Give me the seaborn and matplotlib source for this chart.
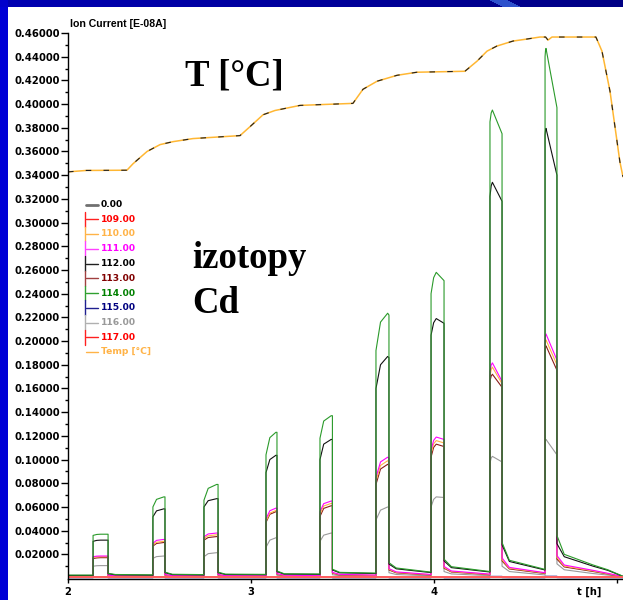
import numpy as np
import matplotlib
matplotlib.use("Agg")
import matplotlib.pyplot as plt
import seaborn as sns
from matplotlib.lines import Line2D
from matplotlib.ticker import FixedLocator

# ---- time axis (hours) ----
PULSE_ON = [2.137, 2.464, 2.743, 3.082, 3.377, 3.683, 3.984, 4.306, 4.607]
PULSE_OFF = [2.219, 2.530, 2.820, 3.142, 3.445, 3.754, 4.055, 4.372, 4.672]
SHOULDER_FRAC = [0.25, 0.30, 0.30, 0.35, 0.30, 0.35, 0.20, 0.10, 0.04]
PEAK_FRAC = [0.50, 0.90, 0.90, 0.90, 0.90, 0.90, 0.40, 0.20, 0.08]
SETTLE_DT = 0.04
TAIL_T = [4.87, 4.95, 5.033]

# ---- ion currents per pulse:
#      (before, after rise, shoulder, maximum, before fall, after drop, settled) ----
CD114 = [
    (0.0025, 0.036, 0.0368, 0.037, 0.037, 0.0040, 0.0030),
    (0.0027, 0.060, 0.0664, 0.0685, 0.0685, 0.0050, 0.0032),
    (0.0029, 0.0657, 0.0757, 0.079, 0.079, 0.0050, 0.0033),
    (0.0031, 0.104, 0.1185, 0.123, 0.123, 0.0060, 0.0036),
    (0.0034, 0.118, 0.1325, 0.137, 0.137, 0.0075, 0.0048),
    (0.0042, 0.192, 0.216, 0.2235, 0.222, 0.0130, 0.0085),
    (0.0050, 0.240, 0.2535, 0.258, 0.251, 0.0160, 0.0096),
    (0.0055, 0.385, 0.3925, 0.395, 0.375, 0.0300, 0.0150),
    (0.0073, 0.440, 0.4453, 0.447, 0.397, 0.0360, 0.0200),
]
CD114_END = [0.011, 0.007, 0.0015]

CD112 = [
    (0.0022, 0.031, 0.0318, 0.032, 0.032, 0.0036, 0.0027),
    (0.0024, 0.0517, 0.0567, 0.0584, 0.0584, 0.0045, 0.0029),
    (0.0026, 0.060, 0.0653, 0.067, 0.067, 0.0045, 0.0030),
    (0.0028, 0.089, 0.100, 0.1036, 0.1036, 0.0054, 0.0033),
    (0.0031, 0.100, 0.113, 0.117, 0.117, 0.0068, 0.0044),
    (0.0038, 0.160, 0.180, 0.187, 0.186, 0.0118, 0.0078),
    (0.0046, 0.205, 0.2155, 0.219, 0.215, 0.0145, 0.0088),
    (0.0051, 0.322, 0.331, 0.334, 0.318, 0.0280, 0.0140),
    (0.0068, 0.374, 0.378, 0.3795, 0.340, 0.0290, 0.0180),
]
CD112_END = [0.010, 0.0065, 0.0014]

CD111 = [
    (0.0015, 0.018, 0.0185, 0.0186, 0.0186, 0.0025, 0.0018),
    (0.0016, 0.0293, 0.0318, 0.0326, 0.0326, 0.0030, 0.0020),
    (0.0017, 0.0348, 0.0372, 0.038, 0.038, 0.0030, 0.0020),
    (0.0018, 0.050, 0.0568, 0.059, 0.059, 0.0038, 0.0024),
    (0.0020, 0.056, 0.0628, 0.065, 0.065, 0.0048, 0.0031),
    (0.0025, 0.085, 0.098, 0.102, 0.101, 0.0080, 0.0052),
    (0.0030, 0.108, 0.1162, 0.119, 0.117, 0.0098, 0.0060),
    (0.0033, 0.174, 0.1797, 0.1816, 0.166, 0.0170, 0.0090),
    (0.0045, 0.200, 0.2045, 0.206, 0.184, 0.0190, 0.0110),
]
CD111_END = [0.0065, 0.0040, 0.0012]

CD110 = [
    (0.0014, 0.0175, 0.0179, 0.018, 0.018, 0.0023, 0.0017),
    (0.0015, 0.028, 0.0302, 0.031, 0.031, 0.0028, 0.0019),
    (0.0016, 0.0335, 0.0357, 0.0365, 0.0365, 0.0028, 0.0019),
    (0.0017, 0.048, 0.0548, 0.057, 0.057, 0.0035, 0.0022),
    (0.0019, 0.054, 0.0608, 0.063, 0.063, 0.0044, 0.0029),
    (0.0023, 0.082, 0.095, 0.099, 0.098, 0.0074, 0.0048),
    (0.0028, 0.105, 0.1133, 0.116, 0.114, 0.0090, 0.0055),
    (0.0031, 0.170, 0.176, 0.178, 0.164, 0.0156, 0.0083),
    (0.0042, 0.196, 0.1998, 0.201, 0.180, 0.0175, 0.0101),
]
CD110_END = [0.0060, 0.0037, 0.0011]

CD113 = [
    (0.0013, 0.0165, 0.0170, 0.0172, 0.0172, 0.0021, 0.0015),
    (0.0014, 0.027, 0.0292, 0.030, 0.030, 0.0026, 0.0017),
    (0.0015, 0.032, 0.0342, 0.035, 0.035, 0.0026, 0.0017),
    (0.0016, 0.047, 0.0538, 0.056, 0.056, 0.0032, 0.0020),
    (0.0017, 0.052, 0.0588, 0.061, 0.061, 0.0041, 0.0026),
    (0.0021, 0.079, 0.092, 0.096, 0.095, 0.0068, 0.0044),
    (0.0025, 0.102, 0.1103, 0.113, 0.111, 0.0083, 0.0051),
    (0.0028, 0.166, 0.1705, 0.172, 0.161, 0.0145, 0.0077),
    (0.0038, 0.191, 0.1948, 0.196, 0.1754, 0.0160, 0.0094),
]
CD113_END = [0.0055, 0.0034, 0.0010]

CD116 = [
    (0.0010, 0.0100, 0.0104, 0.0105, 0.0105, 0.0015, 0.0012),
    (0.0011, 0.0166, 0.0181, 0.0186, 0.0186, 0.0018, 0.0013),
    (0.0011, 0.018, 0.0206, 0.0214, 0.0214, 0.0018, 0.0013),
    (0.0012, 0.026, 0.032, 0.034, 0.034, 0.0022, 0.0015),
    (0.0013, 0.031, 0.0362, 0.038, 0.038, 0.0028, 0.0019),
    (0.0015, 0.049, 0.0573, 0.060, 0.0596, 0.0045, 0.0030),
    (0.0018, 0.060, 0.0664, 0.0685, 0.068, 0.0055, 0.0035),
    (0.0020, 0.097, 0.1013, 0.1027, 0.098, 0.0100, 0.0055),
    (0.0026, 0.114, 0.1163, 0.117, 0.104, 0.0120, 0.0070),
]
CD116_END = [0.0038, 0.0025, 0.0008]

CD115 = [
    (0.0003, 0.0005, 0.0005, 0.0005, 0.0005, 0.0003, 0.0003),
    (0.0003, 0.0006, 0.0006, 0.0006, 0.0006, 0.0003, 0.0003),
    (0.0003, 0.0006, 0.0006, 0.0006, 0.0006, 0.0003, 0.0003),
    (0.0003, 0.0008, 0.0008, 0.0008, 0.0008, 0.0003, 0.0003),
    (0.0003, 0.0008, 0.0008, 0.0008, 0.0008, 0.0003, 0.0003),
    (0.0003, 0.0010, 0.0010, 0.0010, 0.0010, 0.0003, 0.0003),
    (0.0003, 0.0011, 0.0011, 0.0011, 0.0011, 0.0003, 0.0003),
    (0.0003, 0.0014, 0.0014, 0.0014, 0.0014, 0.0004, 0.0003),
    (0.0003, 0.0015, 0.0015, 0.0015, 0.0015, 0.0004, 0.0003),
]
CD115_END = [0.0003, 0.0003, 0.0003]

BASE_T = [2.0, 5.033]
CD109_LEVEL = [0.0010, 0.0010]
CD117_LEVEL = [0.0006, 0.0006]

# temperature trace, plotted on the same scale
TEMP_T = [2.000, 2.100, 2.322, 2.355, 2.432, 2.503, 2.574, 2.683, 2.940, 2.995,
          3.066, 3.131, 3.268, 3.557, 3.612, 3.689, 3.798, 3.907, 4.169, 4.235,
          4.290, 4.344, 4.432, 4.508, 4.579, 4.610, 4.623, 4.645, 4.885, 4.918,
          4.962, 5.016, 5.033]
TEMP_V = [0.3428, 0.3440, 0.3442, 0.3496, 0.3600, 0.3658, 0.3683, 0.3709, 0.3734, 0.3810,
          0.3910, 0.3946, 0.3989, 0.4006, 0.4125, 0.4193, 0.4243, 0.4269, 0.4277, 0.4362,
          0.4447, 0.4490, 0.4532, 0.4549, 0.4566, 0.4566, 0.4540, 0.4566, 0.4566, 0.4447,
          0.4108, 0.3513, 0.3386]

Y_TICKS = [round(0.02 * k, 2) for k in range(1, 24)]
X_TICKS = [2, 3, 4, 5]
X_TICK_LABELS = ["2", "3", "4", ""]

LEGEND_LABELS = ["0.00", "109.00", "110.00", "111.00", "112.00", "113.00",
                 "114.00", "115.00", "116.00", "117.00", "Temp [°C]"]
LEGEND_TEXT_COLORS = ["#000000", "#ff0000", "#ffb347", "#ff00ff", "#000000", "#800000",
                      "#008000", "#000080", "#999999", "#ff0000", "#ffb347"]
LEGEND_LINE_COLORS = ["#707070", "#ff2020", "#ffb347", "#ff40ff", "#202020", "#a04040",
                      "#30a030", "#202090", "#b0b0b0", "#ff2020", "#ffb347"]


def pulse_trace(rows, end_vals):
    t, v = [BASE_T[0]], [rows[0][0]]
    for on, off, sfrac, pfrac, (pre, rise, shoulder, top, fall, knee, settle) in zip(
            PULSE_ON, PULSE_OFF, SHOULDER_FRAC, PEAK_FRAC, rows):
        w = off - on
        t += [on, on, on + sfrac * w, on + pfrac * w, off, off, off + SETTLE_DT]
        v += [pre, rise, shoulder, top, fall, knee, settle]
    t += TAIL_T
    v += end_vals
    return t, v


W, H = 623, 600
sns.set_style("white")
plt.rcParams["font.family"] = ["DejaVu Sans"]
plt.rcParams["text.color"] = "black"
plt.rcParams["xtick.color"] = "black"
plt.rcParams["ytick.color"] = "black"

fig = plt.figure(figsize=(W / 100, H / 100), dpi=100)

# slide background: blue frame with a white panel
bg = np.ones((H, W, 3))
bg[:, :8] = (0.0, 0.0, 0.84)
grad = np.linspace(0.70, 0.52, W)
bg[:7, :, 0] = 0.0
bg[:7, :, 1] = 0.0
bg[:7, :, 2] = grad
for r in range(7):
    bg[r, 490 + 2 * r:508 + 2 * r] = (0.18, 0.32, 0.80)
bg[:7, :8] = (0.0, 0.0, 0.80)
fig.figimage(bg, xo=0, yo=0, origin="upper", zorder=-10)


def fx(px):
    return px / W


def fy(py):
    return 1 - py / H


ax = fig.add_axes([fx(68), fy(579), (W - 68) / W, (579 - 33) / H])
ax.patch.set_visible(False)

series = [
    (CD116, CD116_END, "#9a9a9a"),
    (CD113, CD113_END, "#8b1a1a"),
    (CD110, CD110_END, "#ffb347"),
    (CD111, CD111_END, "#ff00ff"),
    (CD112, CD112_END, "#111111"),
    (CD114, CD114_END, "#2a9a2a"),
    (CD115, CD115_END, "#000080"),
]
for rows, end_vals, col in series:
    t, v = pulse_trace(rows, end_vals)
    sns.lineplot(x=t, y=v, ax=ax, color=col, lw=0.8, sort=False, estimator=None)

sns.lineplot(x=BASE_T, y=CD109_LEVEL, ax=ax, color="#ff3030", lw=1.4, sort=False, estimator=None)
sns.lineplot(x=BASE_T, y=CD117_LEVEL, ax=ax, color="#ff6060", lw=1.4, sort=False, estimator=None)

sns.lineplot(x=TEMP_T, y=TEMP_V, ax=ax, color="#ffb733", lw=1.1, sort=False, estimator=None)
sns.lineplot(x=TEMP_T, y=TEMP_V, ax=ax, color="#202020", lw=0.8, sort=False,
             estimator=None, linestyle=(0, (5, 11)))

ax.set_xlim(2.0, 5.033)
ax.set_ylim(-0.0008, 0.46)
for s in ("top", "right"):
    ax.spines[s].set_visible(False)
for s in ("left", "bottom"):
    ax.spines[s].set_visible(True)
    ax.spines[s].set_color("black")
    ax.spines[s].set_linewidth(1.0)

ax.set_yticks(Y_TICKS)
ax.set_yticklabels([f"{v:.5f}" for v in Y_TICKS])
ax.yaxis.set_minor_locator(FixedLocator([0.01 + 0.02 * k for k in range(23)]))
ax.set_xticks(X_TICKS)
ax.set_xticklabels(X_TICK_LABELS)
ax.tick_params(axis="y", which="major", direction="out", length=5, width=1, pad=1,
               labelsize=7.2, left=True, colors="black")
ax.tick_params(axis="y", which="minor", direction="out", length=2.5, width=1, left=True,
               colors="black")
ax.tick_params(axis="x", which="major", direction="out", length=3, width=1, pad=2.5,
               labelsize=7.2, bottom=True, colors="black")
for lab in ax.get_yticklabels() + ax.get_xticklabels():
    lab.set_fontweight("bold")
ax.set_xlabel("")
ax.set_ylabel("")

fig.text(fx(70), fy(27), "Ion Current [E-08A]", fontsize=7.6, fontweight="bold",
         family="Liberation Sans", va="baseline", ha="left", color="black")
fig.text(fx(577), fy(595), "t [h]", fontsize=7.2, fontweight="bold", va="baseline",
         ha="left", color="black")

serif = dict(family="Liberation Serif", fontweight="bold", fontsize=26.5, va="baseline",
             ha="left", color="black")
fig.text(fx(185), fy(86), "T [°C]", **serif)
fig.text(fx(192), fy(268), "izotopy", **serif)
fig.text(fx(192), fy(313), "Cd", **serif)

# legend block
row0, step = 204.5, 14.75
for i, (lab, tc, lc) in enumerate(zip(LEGEND_LABELS, LEGEND_TEXT_COLORS, LEGEND_LINE_COLORS)):
    yc = row0 + i * step
    fig.add_artist(Line2D([fx(86), fx(98)], [fy(yc), fy(yc)], color=lc,
                          lw=2.0 if i == 0 else 1.0))
    if 1 <= i <= 9:
        fig.add_artist(Line2D([fx(85), fx(85)], [fy(yc - step / 2), fy(yc + step / 2)],
                              color=lc, lw=1.0))
    fig.text(fx(101), fy(yc), lab, color=tc, fontsize=6.6, fontweight="bold",
             va="center", ha="left")

fig.savefig("out.png", dpi=100)
